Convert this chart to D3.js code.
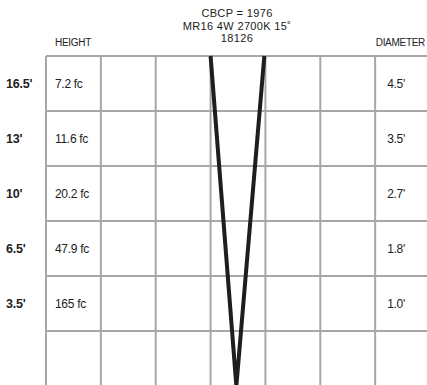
<!DOCTYPE html>
<html><head><meta charset="utf-8">
<script src="https://cdn.jsdelivr.net/npm/d3@7"></script>
<style>html,body{margin:0;padding:0;background:#fff;} svg{display:block;}</style>
</head><body>
<script>
const titleLines = ["CBCP = 1976", "MR16 4W 2700K 15˚", "18126"];
const heightLabel = "HEIGHT";
const diameterLabel = "DIAMETER";
const heights = ["16.5'", "13'", "10'", "6.5'", "3.5'"];
const footcandles = ["7.2 fc", "11.6 fc", "20.2 fc", "47.9 fc", "165 fc"];
const diameters = ["4.5'", "3.5'", "2.7'", "1.8'", "1.0'"];
// beam outline in grid units (column, row)
const beamPoints = [{col: 3.0, row: 0}, {col: 3.47, row: 6}, {col: 3.98, row: 0}];
const nCols = 7, nRows = 6;

const W = 427, H = 385;
const svg = d3.select("body").append("svg").attr("width", W).attr("height", H);
const x = d3.scaleLinear().domain([0, nCols]).range([46, 430]);
const y = d3.scaleLinear().domain([0, nRows]).range([56, 386]);
const font = "'Liberation Sans', Arial, Helvetica, sans-serif";
const grid = "#a7a7aa";

// grid
svg.append("g").selectAll("line").data(d3.range(nRows + 1)).join("line")
  .attr("x1", x(0)).attr("x2", x(nCols)).attr("y1", d => y(d)).attr("y2", d => y(d))
  .attr("stroke", grid).attr("stroke-width", 2);
svg.append("g").selectAll("line").data(d3.range(nCols + 1)).join("line")
  .attr("x1", d => x(d)).attr("x2", d => x(d)).attr("y1", y(0)).attr("y2", y(nRows) + 5)
  .attr("stroke", grid).attr("stroke-width", 2);

// beam
const line = d3.line().x(d => x(d.col)).y(d => y(d.row));
svg.append("path").attr("d", line(beamPoints)).attr("fill", "none")
  .attr("stroke", "#1e1e1e").attr("stroke-width", 4).attr("stroke-linejoin", "miter");

// title
svg.append("g").selectAll("text").data(titleLines).join("text")
  .attr("x", 237).attr("y", (d, i) => 17 + i * 12.5)
  .attr("text-anchor", "middle").attr("font-family", font).attr("font-size", 11)
  .attr("fill", "#222").attr("letter-spacing", 0.35).text(d => d);

svg.append("text").attr("x", 55).attr("y", 46).attr("font-family", font).attr("font-size", 10)
  .attr("fill", "#222").attr("letter-spacing", -0.3).text(heightLabel);
svg.append("text").attr("x", 425).attr("y", 46).attr("text-anchor", "end").attr("font-family", font).attr("font-size", 10)
  .attr("fill", "#222").attr("letter-spacing", -0.3).text(diameterLabel);

const rowY = i => (y(i) + y(i + 1)) / 2 + 4.5;
svg.append("g").selectAll("text").data(heights).join("text")
  .attr("x", 6).attr("y", (d, i) => rowY(i)).attr("font-family", font).attr("font-size", 12.5)
  .attr("font-weight", "bold").attr("fill", "#222").attr("letter-spacing", -0.2).text(d => d);
svg.append("g").selectAll("text").data(footcandles).join("text")
  .attr("x", x(0) + 9).attr("y", (d, i) => rowY(i)).attr("font-family", font).attr("font-size", 12)
  .attr("letter-spacing", -0.3).attr("fill", "#222").text(d => d);
svg.append("g").selectAll("text").data(diameters).join("text")
  .attr("x", x(6) + 12).attr("y", (d, i) => rowY(i)).attr("font-family", font).attr("font-size", 12)
  .attr("letter-spacing", -0.3).attr("fill", "#222").text(d => d);
</script>
</body></html>
